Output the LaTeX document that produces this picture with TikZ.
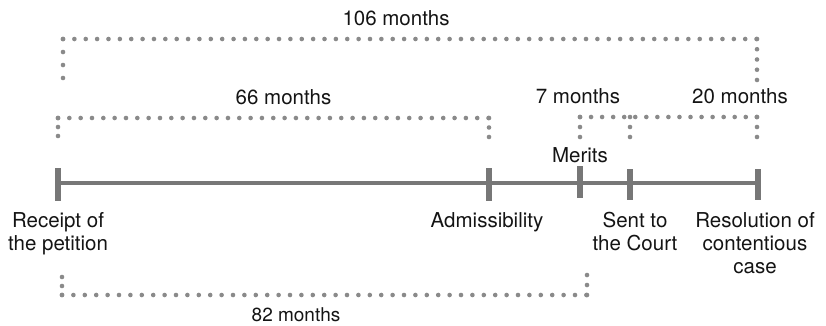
\documentclass[tikz,border=0pt]{standalone}
\usepackage{fontspec}
\setmainfont{TeX Gyre Heros}
\definecolor{axisgray}{HTML}{777777}
\definecolor{dotgray}{HTML}{8A8A8A}
\newcommand{\mlines}[1]{\begin{tabular}[t]{@{}c@{}}#1\end{tabular}}
\begin{document}
\begin{tikzpicture}[x=1pt,y=-1pt,
  axis/.style={draw=axisgray,line width=4pt},
  tickmark/.style={draw=axisgray,line width=5.5pt},
  dotline/.style={draw=dotgray,line width=4.6pt,line cap=round,dash pattern=on 0pt off #1},
  dotline/.default=11.38,
  lab/.style={font=\fontsize{20.5}{23}\selectfont,inner sep=0pt,align=center,text=black!92},
]
\useasboundingbox (0,0) rectangle (826,325);
% timeline points
\coordinate (p0) at (58,183);
\coordinate (p1) at (489,183);
\coordinate (p2) at (580,183);
\coordinate (p3) at (630,183);
\coordinate (p4) at (758,183);
\draw[axis] (p0) -- (p4);
\foreach \p/\t/\b in {p0/168/201, p1/168/201, p2/166/198, p3/169/200, p4/169/200}{
  \draw[tickmark] (\p |- 0,\t) -- (\p |- 0,\b);
}
% labels below
\node[lab,anchor=base] (receipt) at (58,227) {\mlines{Receipt of\\the petition}};
\node[lab,anchor=base] (admis) at (487,227) {Admissibility};
\node[lab,anchor=base] (sent) at (635,227) {\mlines{Sent to\\the Court}};
\node[lab,anchor=base] (resol) at (755,227) {\mlines{Resolution of\\contentious\\case}};
\node[lab,anchor=base] (merits) at (580,162) {Merits};
% 106 months bracket
\coordinate (a1) at (63,78);
\coordinate (a2) at (63,39);
\coordinate (a3) at (757,39);
\coordinate (a4) at (757,80);
\draw[dotline=12.99] (a1) -- (a2);
\draw[dotline=11.37] (a2) -- (a3);
\draw[dotline=10.24] (a3) -- (a4);
\node[lab,anchor=base] (l106) at (396,25) {106 months};
% 66 months bracket
\coordinate (b1) at (58,136);
\coordinate (b2) at (58,118);
\coordinate (b3) at (489,118);
\coordinate (b4) at (489,137);
\draw[dotline=8.99] (b1) -- (b2);
\draw[dotline=11.33] (b2) -- (b3);
\draw[dotline=9.49] (b3) -- (b4);
\node[lab,anchor=base] (l66) at (283.5,104) {66 months};
% 7 and 20 months bracket
\coordinate (c1) at (580,137);
\coordinate (c2) at (580,117);
\coordinate (c3) at (757,117);
\coordinate (c4) at (757,137);
\coordinate (c5) at (630,117);
\coordinate (c6) at (630,137);
\draw[dotline=9.99] (c1) -- (c2);
\draw[dotline=11.05] (c2) -- (c3);
\draw[dotline=9.99] (c3) -- (c4);
\draw[dotline=9.99] (c5) -- (c6);
\node[lab,anchor=base] (l7) at (578,103) {7 months};
\node[lab,anchor=base] (l20) at (740,103) {20 months};
% 82 months bracket
\coordinate (d1) at (62,277);
\coordinate (d2) at (62,295);
\coordinate (d3) at (587,295);
\coordinate (d4) at (587,275);
\draw[dotline=8.99] (d1) -- (d2);
\draw[dotline=11.40] (d2) -- (d3);
\draw[dotline=9.99] (d3) -- (d4);
\node[lab,anchor=base,font=\fontsize{19}{23}\selectfont] (l82) at (296,321) {82 months};
\end{tikzpicture}
\end{document}
